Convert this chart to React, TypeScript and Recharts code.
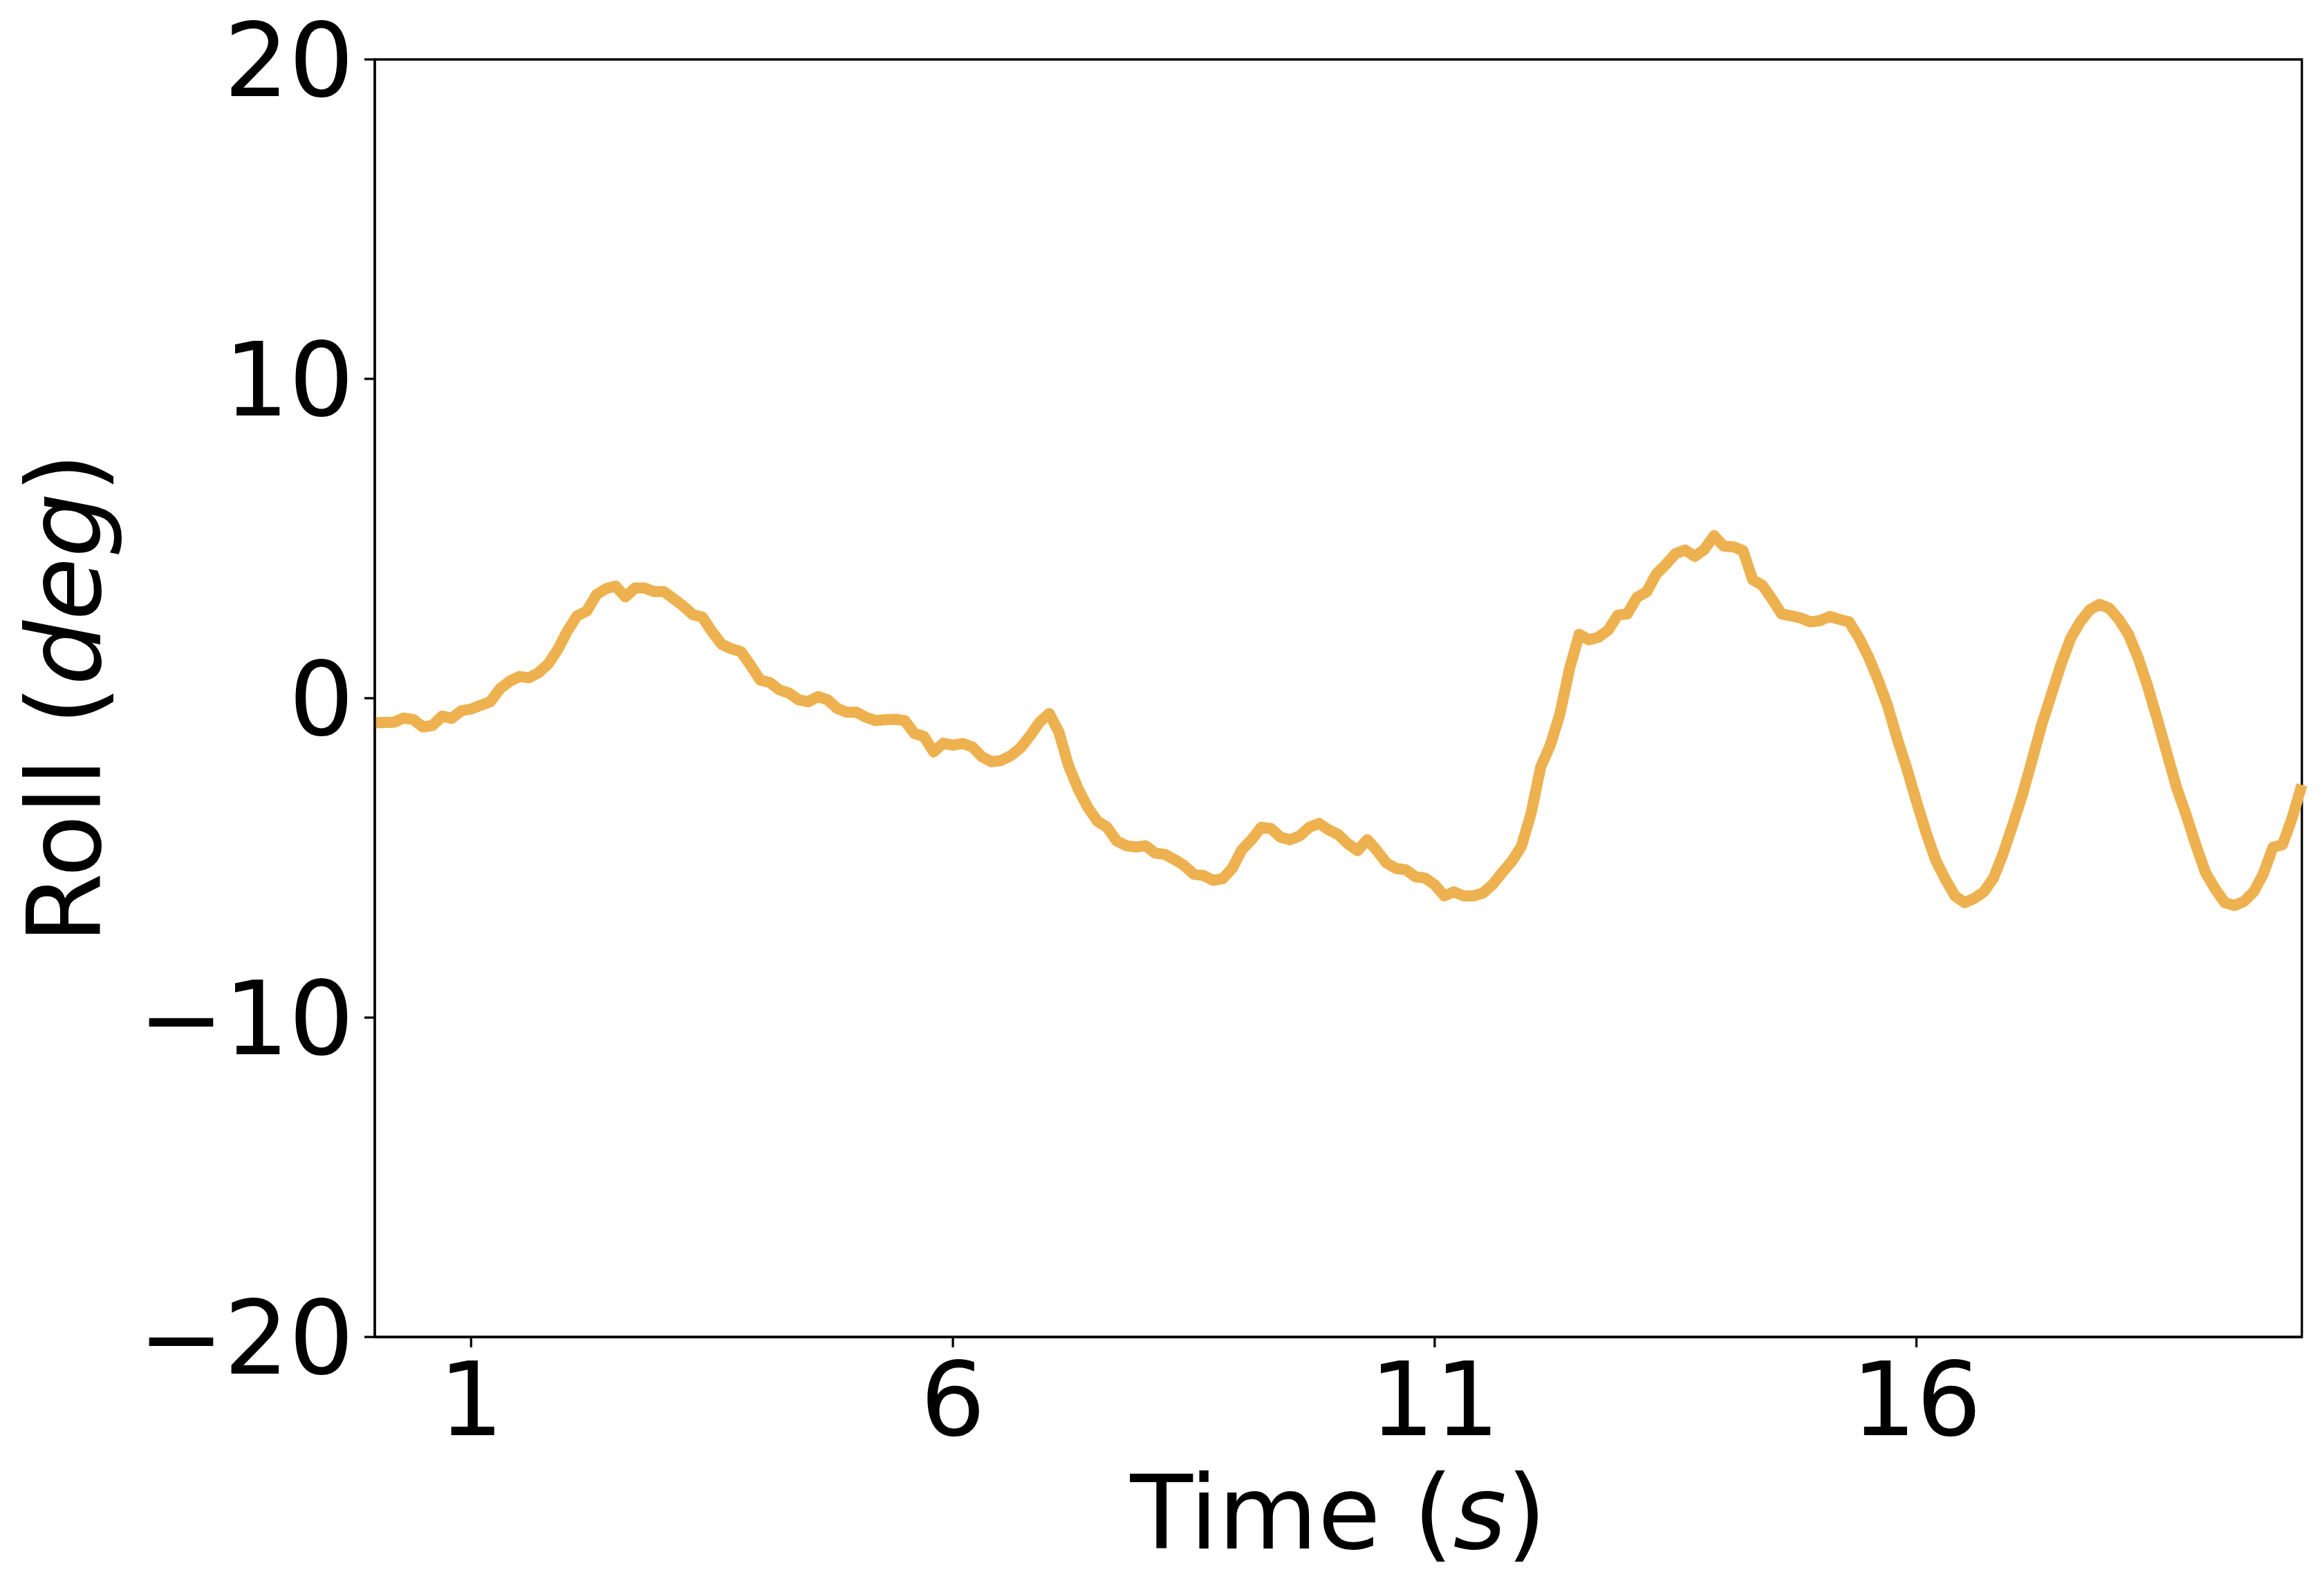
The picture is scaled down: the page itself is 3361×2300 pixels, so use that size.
import React from 'react';
import { LineChart, Line, XAxis, YAxis, ReferenceArea, Label } from 'recharts';

// roll angle (deg), sampled every 0.1 s from t = 0 to t = 20
const timeStep = 0.1;
const roll = [
  -0.77, -0.76, -0.75, -0.62, -0.67, -0.9, -0.85, -0.56, -0.63, -0.39,
  -0.34, -0.22, -0.11, 0.3, 0.53, 0.68, 0.64, 0.8, 1.07, 1.53,
  2.11, 2.58, 2.73, 3.24, 3.43, 3.51, 3.17, 3.45, 3.45, 3.34,
  3.34, 3.12, 2.89, 2.62, 2.54, 2.08, 1.69, 1.55, 1.46, 1.03,
  0.57, 0.49, 0.26, 0.16, -0.05, -0.11, 0.05, -0.05, -0.32, -0.44,
  -0.44, -0.6, -0.7, -0.67, -0.66, -0.7, -1.1, -1.2, -1.68, -1.41,
  -1.47, -1.42, -1.52, -1.83, -1.99, -1.95, -1.8, -1.56, -1.18, -0.75,
  -0.48, -1.06, -2.11, -2.84, -3.42, -3.85, -4.04, -4.47, -4.62, -4.66,
  -4.62, -4.85, -4.89, -5.05, -5.24, -5.51, -5.55, -5.7, -5.65, -5.32,
  -4.74, -4.43, -4.04, -4.08, -4.35, -4.43, -4.31, -4.04, -3.92, -4.12,
  -4.27, -4.56, -4.77, -4.43, -4.77, -5.16, -5.33, -5.37, -5.59, -5.63,
  -5.84, -6.19, -6.06, -6.19, -6.19, -6.1, -5.84, -5.46, -5.11, -4.64,
  -3.61, -2.16, -1.47, -0.49, 0.93, 2.0, 1.83, 1.91, 2.13, 2.6,
  2.64, 3.16, 3.33, 3.89, 4.19, 4.53, 4.64, 4.44, 4.66, 5.09,
  4.76, 4.74, 4.62, 3.71, 3.54, 3.11, 2.64, 2.58, 2.51, 2.39,
  2.43, 2.56, 2.47, 2.39, 1.91, 1.31, 0.59, -0.23, -1.26, -2.2,
  -3.23, -4.21, -5.07, -5.67, -6.19, -6.4, -6.27, -6.06, -5.63, -4.86,
  -3.96, -3.02, -1.94, -0.83, 0.11, 1.06, 1.87, 2.39, 2.77, 2.94,
  2.82, 2.47, 2.0, 1.27, 0.37, -0.66, -1.73, -2.8, -3.66, -4.6,
  -5.46, -5.97, -6.4, -6.49, -6.36, -6.06, -5.5, -4.67, -4.58, -3.74,
  -2.71,
];

const xTicks = [1, 6, 11, 16];
const yTicks = [-20, -10, 0, 10, 20];

const data = roll.map((v, i) => ({ t: +(i * timeStep).toFixed(1), roll: v }));

const FONT = 'DejaVu Sans';
const FS = 148;
const LW = 3.3;

const tickStyle = { fill: '#000', fontSize: FS, fontFamily: FONT };
const fmt = (v: number) => String(v).replace('-', '\u2212');

export default function App() {
  return (
    <div style={{ position: 'absolute', left: 0, top: 0, width: 3361, height: 2300, background: '#fff' }}>
      <LineChart width={3361} height={2300} data={data} margin={{ top: 86, right: 32, bottom: 0, left: 0 }}>
        <XAxis
          dataKey="t"
          type="number"
          domain={[0, 20]}
          ticks={xTicks}
          height={366}
          tick={tickStyle}
          tickSize={15}
          tickMargin={22}
          axisLine={{ stroke: '#000', strokeWidth: LW }}
          tickLine={{ stroke: '#000', strokeWidth: LW }}
          interval={0}
        >
          <Label
            content={(props: any) => {
              const vb = props.viewBox;
              return (
                <text x={vb.x + vb.width / 2} y={vb.y + 306} textAnchor="middle" fontSize={FS} fontFamily={FONT} fill="#000">
                  Time (<tspan fontStyle="italic">s</tspan>)
                </text>
              );
            }}
          />
        </XAxis>
        <YAxis
          type="number"
          domain={[-20, 20]}
          ticks={yTicks}
          width={542}
          tick={tickStyle}
          tickFormatter={fmt}
          tickSize={15}
          tickMargin={15}
          axisLine={{ stroke: '#000', strokeWidth: LW }}
          tickLine={{ stroke: '#000', strokeWidth: LW }}
          interval={0}
        >
          <Label
            content={(props: any) => {
              const vb = props.viewBox;
              const cx = vb.x + 145;
              const cy = vb.y + vb.height / 2;
              return (
                <text x={cx} y={cy} transform={`rotate(-90, ${cx}, ${cy})`} textAnchor="middle" fontSize={FS} fontFamily={FONT} fill="#000">
                  Roll (<tspan fontStyle="italic">deg</tspan>)
                </text>
              );
            }}
          />
        </YAxis>
        <ReferenceArea x1={0} x2={20} y1={-20} y2={20} fill="none" fillOpacity={0} stroke="#000" strokeWidth={LW} />
        <Line
          type="linear"
          dataKey="roll"
          stroke="#EDB14F"
          strokeWidth={16}
          strokeLinejoin="round"
          dot={false}
          activeDot={false}
          isAnimationActive={false}
        />
      </LineChart>
    </div>
  );
}
